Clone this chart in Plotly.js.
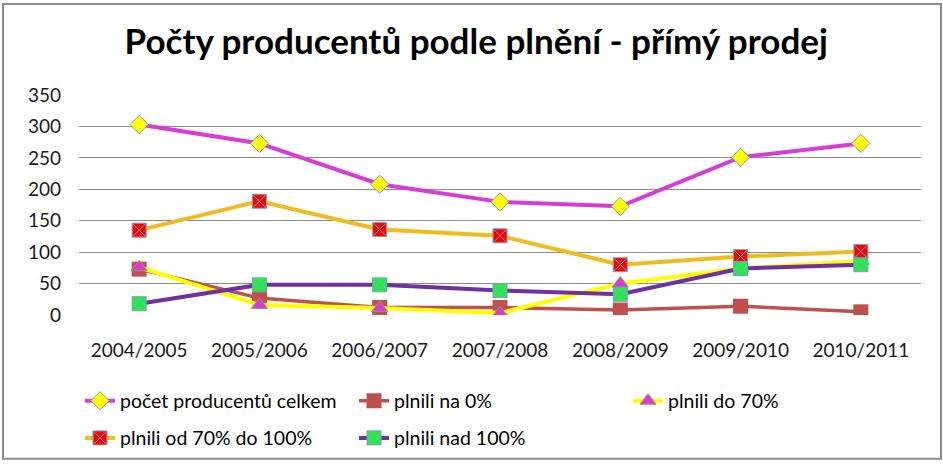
<!DOCTYPE html>
<html><head><meta charset="utf-8">
<script src="https://cdn.plot.ly/plotly-3.0.1.min.js"></script>
<style>body{margin:0;padding:0;background:#fff;overflow:hidden}#chart{width:943px;height:469px}</style>
</head><body><div id="chart"></div>
<script>
var categories = ["2004/2005","2005/2006","2006/2007","2007/2008","2008/2009","2009/2010","2010/2011"];
var celkem = [303, 273, 208, 180, 173, 251, 273];
var na0 = [73, 27, 12, 12, 8, 14, 5];
var do70 = [76, 16, 11, 3, 50, 74, 86];
var od70do100 = [135, 181, 136, 126, 80, 93, 101];
var nad100 = [18, 48, 48, 39, 33, 74, 80];
var names = ["počet producentů celkem","plnili na 0%","plnili do 70%","plnili od 70% do 100%","plnili nad 100%"];

var L=79, R=22, T=95, B=149, W=943, H=469;
var pw=W-L-R, ph=H-T-B;
function px(x){return (x-L)/pw;}
function py(y){return (H-B-y)/ph;}

var traces = [
 {x:categories,y:celkem,name:names[0],mode:"lines+markers",legend:"legend",
  line:{color:"#d93bd9",width:4},
  marker:{symbol:"diamond",size:14,color:"#ffff00",line:{color:"#7f9fbf",width:1}}},
 {x:categories,y:na0,name:names[1],mode:"lines+markers",legend:"legend",
  line:{color:"#c0504d",width:3.5},
  marker:{symbol:"square",size:15,color:"#c0504d",line:{color:"#c0504d",width:0}}},
 {x:categories,y:do70,name:names[2],mode:"lines+markers",legend:"legend",
  line:{color:"#ffff00",width:4},
  marker:{symbol:"triangle-up",size:14,color:"#d93bd9",line:{color:"#9b9b5f",width:1}}},
 {x:categories,y:od70do100,name:names[3],mode:"lines+markers",legend:"legend2",
  line:{color:"#f0bc1c",width:4},
  marker:{symbol:"square-x",size:14,color:"#ff0000",line:{color:"#7f9fbf",width:1}}},
 {x:categories,y:nad100,name:names[4],mode:"lines+markers",legend:"legend2",
  line:{color:"#7030a0",width:4},
  marker:{symbol:"square-x",size:14,color:"#22ee44",line:{color:"#7f9fbf",width:1}}}
];

var legendBase = {orientation:"h",xanchor:"left",yanchor:"middle",
  entrywidth:229,entrywidthmode:"pixels",font:{size:19.5,family:"Lato, sans-serif",color:"#000"},
  bgcolor:"rgba(0,0,0,0)",traceorder:"normal"};

var layout = {
 width:W,height:H,
 margin:{l:L,r:R,t:T,b:B},
 paper_bgcolor:"#fff",plot_bgcolor:"#fff",
 font:{family:"Lato, 'Open Sans', sans-serif",color:"#000"},
 title:{text:"<b>Počty producentů podle plnění - přímý prodej</b>",
  font:{size:35,family:"Lato, sans-serif",color:"#000"},x:0.505,xanchor:"center",y:1-42/H,yanchor:"middle"},
 xaxis:{type:"category",range:[-0.5,6.5],showgrid:false,zeroline:false,showline:false,ticks:"",
  tickfont:{size:19,color:"#1a1a1a"},automargin:false,ticklabelstandoff:22},
 yaxis:{range:[0,350],dtick:50,showgrid:true,gridcolor:"#8c8c8c",gridwidth:1,
  zeroline:false,showline:false,ticks:"",tickfont:{size:19,color:"#1a1a1a"},automargin:false,ticklabelstandoff:17},
 showlegend:true,
 legend:Object.assign({},legendBase,{x:px(80),y:py(408)}),
 legend2:Object.assign({},legendBase,{x:px(80),y:py(446)}),
 shapes:[{type:"rect",xref:"paper",yref:"paper",x0:px(3),x1:px(941),y0:py(467),y1:py(2),
  line:{color:"#8c8c8c",width:2},fillcolor:"rgba(0,0,0,0)",layer:"below"}]
};
Plotly.newPlot("chart",traces,layout,{displayModeBar:false,staticPlot:true});
</script></body></html>
